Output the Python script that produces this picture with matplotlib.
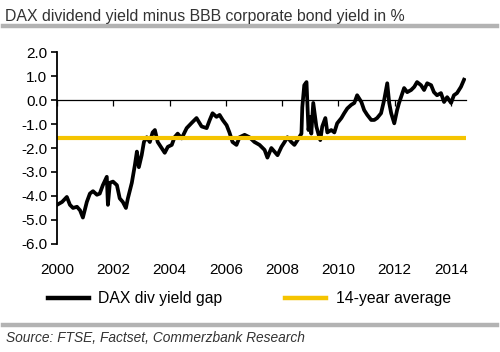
import matplotlib
matplotlib.use("Agg")
import matplotlib.pyplot as plt
from matplotlib.lines import Line2D

plt.rcParams['font.family'] = ['Liberation Sans', 'DejaVu Sans']

years = [2000.00, 2000.18, 2000.35, 2000.46, 2000.57, 2000.71, 2000.82, 2000.92,
         2001.06, 2001.17, 2001.28, 2001.42, 2001.52, 2001.63, 2001.77, 2001.81,
         2001.88, 2001.99, 2002.13, 2002.23, 2002.34, 2002.45, 2002.52, 2002.66,
         2002.77, 2002.84, 2002.91, 2003.01, 2003.09, 2003.19, 2003.30, 2003.40,
         2003.48, 2003.58, 2003.72, 2003.83, 2003.94, 2004.08, 2004.18, 2004.29,
         2004.43, 2004.61, 2004.79, 2004.96, 2005.14, 2005.32, 2005.43, 2005.53,
         2005.67, 2005.78, 2005.89, 2006.03, 2006.13, 2006.24, 2006.38, 2006.49,
         2006.67, 2006.84, 2007.02, 2007.20, 2007.38, 2007.48, 2007.62, 2007.73,
         2007.84, 2007.98, 2008.09, 2008.19, 2008.33, 2008.44, 2008.55, 2008.69,
         2008.72, 2008.79, 2008.87, 2008.94, 2009.01, 2009.04, 2009.11, 2009.22,
         2009.29, 2009.36, 2009.43, 2009.54, 2009.61, 2009.75, 2009.86, 2009.96,
         2010.11, 2010.21, 2010.32, 2010.46, 2010.57, 2010.67, 2010.82, 2010.92,
         2011.03, 2011.17, 2011.28, 2011.38, 2011.52, 2011.63, 2011.74, 2011.81,
         2011.88, 2011.99, 2012.09, 2012.16, 2012.23, 2012.34, 2012.45, 2012.59,
         2012.70, 2012.80, 2012.94, 2013.05, 2013.16, 2013.30, 2013.40, 2013.51,
         2013.65, 2013.76, 2013.87, 2014.01, 2014.11, 2014.22, 2014.36, 2014.47]
gap = [-4.37, -4.25, -4.04, -4.37, -4.5, -4.45, -4.6, -4.9,
       -4.25, -3.9, -3.8, -3.95, -3.9, -3.55, -3.2, -4.37,
       -3.45, -3.4, -3.55, -4.1, -4.25, -4.5, -4.1, -3.45,
       -2.7, -2.15, -2.8, -2.3, -1.75, -1.55, -1.75, -1.35,
       -1.25, -1.75, -2.0, -2.2, -1.95, -1.87, -1.55, -1.4,
       -1.6, -1.17, -0.95, -0.75, -1.1, -1.17, -0.83, -0.55,
       -0.7, -0.62, -0.83, -1.05, -1.35, -1.75, -1.87, -1.55,
       -1.45, -1.55, -1.75, -1.87, -2.08, -2.4, -2.0, -2.15,
       -2.3, -1.95, -1.75, -1.55, -1.75, -1.87, -1.67, -1.4,
       -0.3, 0.62, 0.75, -1.25, -0.7, -1.4, -0.12, -1.1,
       -1.4, -1.67, -1.1, -0.75, -1.35, -1.25, -1.35, -0.97,
       -0.75, -0.55, -0.35, -0.2, -0.12, 0.2, -0.08, -0.42,
       -0.62, -0.83, -0.83, -0.75, -0.55, 0.0, 0.7, -0.12,
       -0.55, -0.97, -0.42, -0.12, 0.12, 0.5, 0.33, 0.42,
       0.55, 0.75, 0.62, 0.42, 0.7, 0.62, 0.33, 0.2,
       0.29, -0.08, 0.12, -0.12, 0.2, 0.29, 0.55, 0.85]
average = -1.57
x_ticks = [2000, 2002, 2004, 2006, 2008, 2010, 2012, 2014]
y_ticks = [2.0, 1.0, 0.0, -1.0, -2.0, -3.0, -4.0, -5.0, -6.0]

fig = plt.figure(figsize=(5.0, 3.52), dpi=100)
ax = fig.add_axes([0.114, 0.307, 0.818, 0.545])

line_gap, = ax.plot(years, gap, color='black', lw=2.7, solid_joinstyle='round',
                    label='DAX div yield gap')
line_avg = ax.axhline(average, color='#F5C400', lw=3.0, label='14-year average')

ax.set_xlim(2000, 2014.54)
ax.set_ylim(-6, 2)

for s in ['top', 'right']:
    ax.spines[s].set_visible(False)
ax.spines['left'].set_linewidth(1.3)
ax.spines['bottom'].set_position(('data', 0))
ax.spines['bottom'].set_linewidth(0.9)

ax.set_yticks(y_ticks)
ax.set_yticklabels([f"{v:.1f}" for v in y_ticks])
ax.tick_params(axis='y', direction='out', length=4, width=1.2, labelsize=11,
               pad=3, colors='black')
ax.set_xticks(x_ticks)
ax.tick_params(axis='x', direction='out', length=4, width=0.9, labelbottom=False)

sec = ax.secondary_xaxis('bottom')
sec.set_xticks(x_ticks)
sec.set_xticklabels([str(x) for x in x_ticks])
sec.tick_params(axis='x', length=0, labelsize=11, pad=14)
sec.spines['bottom'].set_visible(False)

fig.text(0.01, 0.975, 'DAX dividend yield minus BBB corporate bond yield in %',
         fontsize=11.4, color='#333333', ha='left', va='top')
fig.add_artist(Line2D([0.006, 0.994], [0.926, 0.926], transform=fig.transFigure,
                      color='#b3b3b3', lw=3.2))
fig.add_artist(Line2D([0.006, 0.994], [0.077, 0.077], transform=fig.transFigure,
                      color='#b3b3b3', lw=3.2))
fig.text(0.012, 0.021, 'Source: FTSE, Factset, Commerzbank Research', fontsize=9.9,
         style='italic', color='#333333', ha='left', va='bottom')

leg = fig.legend(handles=[line_gap, line_avg], loc='center left',
                 bbox_to_anchor=(0.084, 0.151), ncol=2, frameon=False, fontsize=11.3,
                 handlelength=2.6, handletextpad=0.6, columnspacing=4.0,
                 borderaxespad=0)
for h in leg.legend_handles:
    h.set_linewidth(3.2)

fig.savefig('out.png', dpi=100)
